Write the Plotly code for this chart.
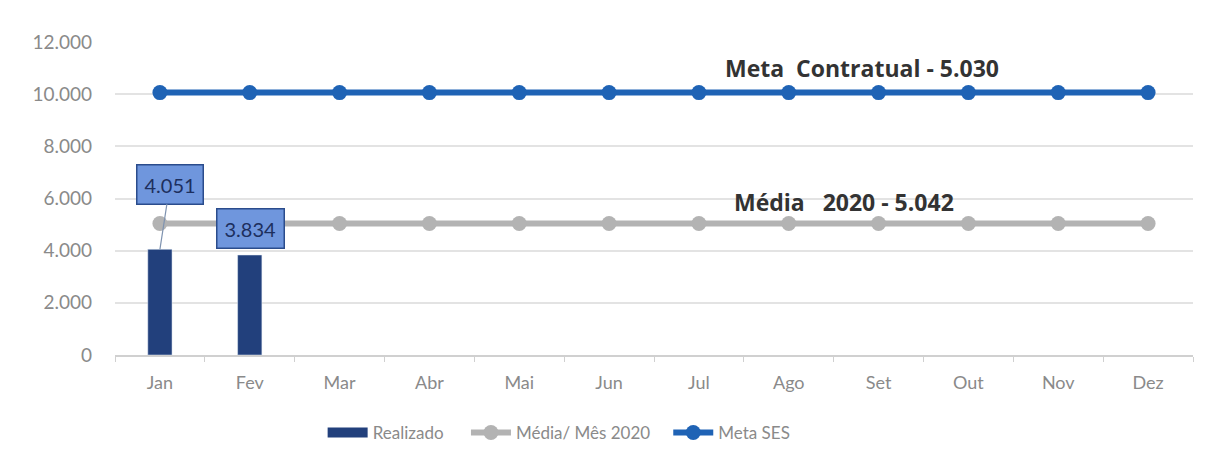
import plotly.graph_objects as go

# dados
meses = ['Jan', 'Fev', 'Mar', 'Abr', 'Mai', 'Jun', 'Jul', 'Ago', 'Set', 'Out', 'Nov', 'Dez']
realizado = [4051, 3834]
media_2020 = [5042] * 12
meta_ses = [10060] * 12
y_ticks = [0, 2000, 4000, 6000, 8000, 10000, 12000]

AZUL = '#1f63b5'
CINZA = '#b3b3b3'
MARINHO = '#22407c'
FONT = 'Lato'
NB = '\u00a0'

fig = go.Figure()

fig.add_trace(go.Bar(
    x=meses[:len(realizado)], y=realizado, name='Realizado', showlegend=False,
    marker=dict(color=MARINHO), width=0.27,
))
# entrada de legenda larga para as barras
fig.add_trace(go.Scatter(
    x=[None], y=[None], name='Realizado' + NB * 4, mode='lines',
    line=dict(color=MARINHO, width=12),
))
fig.add_trace(go.Scatter(
    x=meses, y=media_2020, name='Média/ Mês 2020' + NB * 3, mode='lines+markers',
    line=dict(color=CINZA, width=6), marker=dict(size=15, color=CINZA),
))
fig.add_trace(go.Scatter(
    x=meses, y=meta_ses, name='Meta SES', mode='lines+markers',
    line=dict(color=AZUL, width=6), marker=dict(size=15, color=AZUL),
))

# rótulos de dados das barras
box = dict(bgcolor='#6f96dd', bordercolor='#2b4c8c', borderwidth=1.5, borderpad=7,
           font=dict(family=FONT, size=20, color='#1d2f5e'))
fig.add_annotation(x=meses[0], y=realizado[0], text=f"{realizado[0]/1000:.3f}",
                   showarrow=True, arrowhead=0, arrowcolor='#7f93b0', arrowwidth=1.2,
                   ax=10, ay=-65, **box)
fig.add_annotation(x=meses[1], y=realizado[1], text=f"{realizado[1]/1000:.3f}",
                   showarrow=False, yshift=27, xshift=1, **box)

# títulos das séries
fig.add_annotation(x=7.81, y=11000, text='<b>Meta  Contratual - 5.030</b>', showarrow=False,
                   font=dict(family='Open Sans', size=23, color='#333333'))
fig.add_annotation(x=7.62, y=5870, text='<b>Média   2020 - 5.042</b>', showarrow=False,
                   font=dict(family='Open Sans', size=23, color='#333333'))

# a página tem 8px de margem no body: descontado aqui
fig.update_layout(
    width=1202, height=456,
    margin=dict(l=107, r=17, t=34, b=109),
    paper_bgcolor='white', plot_bgcolor='white',
    separators=',.',
    font=dict(family=FONT, color='#8a8a8a', size=15),
    showlegend=True,
    legend=dict(orientation='h', x=0.412, xanchor='center', y=-0.249, yanchor='middle',
                font=dict(family=FONT, size=17, color='#8a8a8a'), itemwidth=40,
                tracegroupgap=0),
    xaxis=dict(range=[-0.5, 11.5], showgrid=False, showline=True, linecolor='#d0d0d0',
               linewidth=1.5, ticks='outside', tickson='boundaries', ticklen=5,
               tickcolor='#d0d0d0', tickfont=dict(size=18), ticklabelstandoff=11,
               automargin=False),
    yaxis=dict(range=[0, 12000], tickvals=y_ticks, tickformat=',d', showgrid=True,
               gridcolor='#e3e3e3', gridwidth=1.5, zeroline=False, ticklabelstandoff=22,
               tickfont=dict(size=19), automargin=False),
)

fig.write_html("out.html")
